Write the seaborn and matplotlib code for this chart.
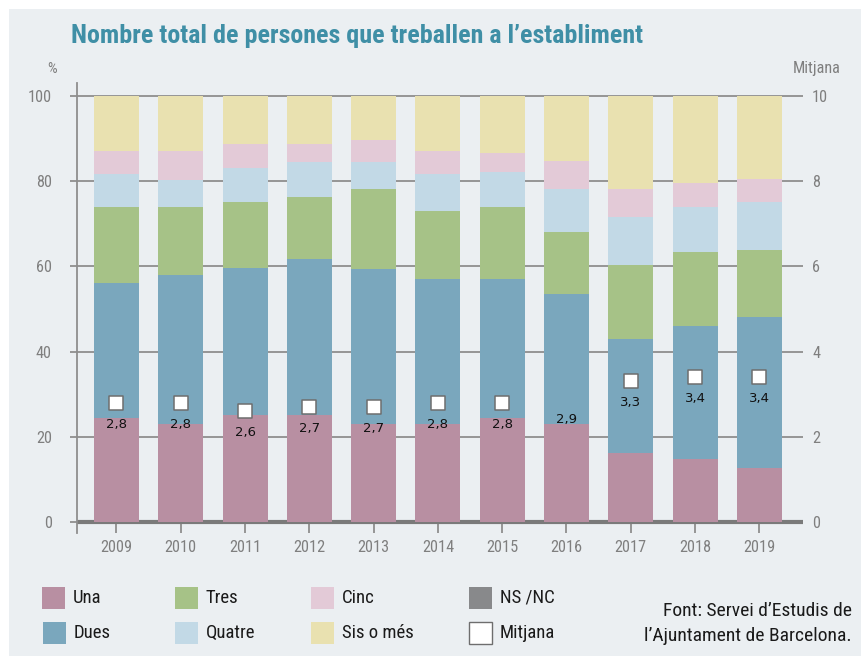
import numpy as np
import pandas as pd
import matplotlib
matplotlib.use("Agg")
import matplotlib.pyplot as plt
from matplotlib import font_manager
from matplotlib.patches import Rectangle
import seaborn as sns

sns.set_style('white')
names = {f.name for f in font_manager.fontManager.ttflist}
base_font = next((n for n in ['Liberation Sans Narrow', 'Roboto Condensed', 'Roboto'] if n in names), 'DejaVu Sans')
plt.rcParams['font.family'] = [base_font, 'DejaVu Sans']

# data (% of establishments)
years = ['2009', '2010', '2011', '2012', '2013', '2014', '2015', '2016', '2017', '2018', '2019']
una = [24.4, 23.0, 25.1, 25.1, 23.0, 23.0, 24.4, 23.0, 16.1, 14.7, 12.7]
dues = [31.7, 35.0, 34.5, 36.6, 36.3, 34.0, 32.6, 30.5, 26.8, 31.3, 35.4]
tres = [17.8, 15.9, 15.5, 14.6, 18.9, 16.0, 16.9, 14.6, 17.4, 17.5, 15.7]
quatre = [7.9, 6.5, 8.1, 8.3, 6.4, 8.8, 8.4, 10.1, 11.3, 10.4, 11.3]
cinc = [5.3, 6.7, 5.6, 4.2, 5.1, 5.3, 4.3, 6.5, 6.6, 5.7, 5.4]
sis = [12.9, 12.9, 11.2, 11.2, 10.3, 12.9, 13.4, 15.3, 21.8, 20.4, 19.5]
ns_nc = [0, 0, 0, 0, 0, 0, 0, 0, 0, 0, 0]
mitjana = [2.8, 2.8, 2.6, 2.7, 2.7, 2.8, 2.8, 2.9, 3.3, 3.4, 3.4]
no_marker = ['2016']  # the reference shows the label but no square that year

series = ['Una', 'Dues', 'Tres', 'Quatre', 'Cinc', 'Sis o més']
colors = ['#B88FA2', '#7AA7BD', '#A6C287', '#C2D9E6', '#E3CAD7', '#E9E1B0']
ns_color = '#88898B'
bg = '#EBEFF2'
grid_c = '#8E8E8E'
txt_c = '#7F7F7F'

df = pd.DataFrame({'year': years, 'Una': una, 'Dues': dues, 'Tres': tres,
                   'Quatre': quatre, 'Cinc': cinc, 'NS/NC': ns_nc, 'Sis o més': sis})
cum = df[series].cumsum(axis=1)

W, H = 862, 656
fig = plt.figure(figsize=(W / 100, H / 100), dpi=100, facecolor='white')
fig.add_artist(Rectangle((9 / W, 0), 1 - 9 / W, 1 - 9 / H, transform=fig.transFigure,
                         facecolor=bg, edgecolor='none', zorder=-10))

ax = fig.add_axes([77 / W, 1 - 533 / H, (803 - 77) / W, (533 - 83) / H])
ax.set_facecolor('none')

for name, col in reversed(list(zip(series, colors))):
    sns.barplot(x=df['year'], y=cum[name], color=col, saturation=1, width=0.7,
                linewidth=0, edgecolor='none', ax=ax, zorder=2)

ax.set_ylim(-2.65, 103.1)
ax.set_yticks(np.arange(0, 101, 20))
ax.yaxis.grid(True, color=grid_c, linewidth=1.3, zorder=0)
ax.set_axisbelow(True)
ax.axhline(0, color='#7A7A7A', linewidth=3, zorder=1)
ax.set_xlabel('')
ax.set_ylabel('')
for s in ['top', 'right', 'bottom']:
    ax.spines[s].set_visible(False)
ax.spines['left'].set_color(grid_c)
ax.spines['left'].set_linewidth(1.3)
ax.tick_params(axis='y', direction='out', length=5, width=1.3, color=grid_c, pad=13,
               labelsize=11.7, labelcolor=txt_c, left=True)
ax.tick_params(axis='x', direction='in', length=8, width=1.3, color=grid_c, pad=5,
               labelsize=11.7, labelcolor=txt_c, bottom=True)

ax2 = ax.twinx()
ax2.set_ylim(-0.265, 10.31)
ax2.set_yticks(np.arange(0, 11, 2))
for s in ax2.spines.values():
    s.set_visible(False)
ax2.tick_params(axis='y', length=0, pad=6.5, labelsize=11.7, labelcolor=txt_c)

pos = np.arange(len(years))
shown = [y not in no_marker for y in years]
sns.scatterplot(x=pos[shown], y=np.array(mitjana)[shown], marker='s', s=100,
                color='white', edgecolor='#6E6E6E', linewidth=1.1, ax=ax2, zorder=5)
for i, v in enumerate(mitjana):
    ax2.annotate(f"{v:.1f}".replace('.', ','), xy=(i, v), xytext=(0, -15.5),
                 textcoords='offset points', ha='center', va='center',
                 fontsize=9.5, family='DejaVu Sans', color='#111111', zorder=6)
ax.set_xlim(-0.614, 10.68)

fig.text(71 / W, 1 - 36 / H, "Nombre total de persones que treballen a l\u2019establiment",
         fontsize=18.7, fontweight='bold', color='#3F8FA6', ha='left', va='center')
fig.text(52.5 / W, 1 - 69 / H, '%', fontsize=11, color=txt_c, ha='center', va='center')
fig.text(817 / W, 1 - 68 / H, 'Mitjana', fontsize=11.7, color=txt_c, ha='center', va='center')

# legend, laid out as in the original (2 rows x 4 columns)
leg_items = [('Una', colors[0], 42, 587), ('Dues', colors[1], 43, 622),
             ('Tres', colors[2], 175, 587), ('Quatre', colors[3], 175, 622),
             ('Cinc', colors[4], 311, 587), ('Sis o més', colors[5], 311, 622),
             ('NS /NC', ns_color, 469, 587), ('Mitjana', 'white', 469, 622)]
for label, col, x0, y0 in leg_items:
    ec = '#6E6E6E' if col == 'white' else 'none'
    fig.add_artist(Rectangle((x0 / W, 1 - (y0 + 22) / H), 23 / W, 22 / H,
                             transform=fig.transFigure, facecolor=col, edgecolor=ec, linewidth=1))
    fig.text((x0 + 31) / W, 1 - (y0 + 11) / H, label, fontsize=13.5, color='#1A1A1A',
             ha='left', va='center')

fig.text(852 / W, 1 - 611 / H, 'Font: Servei d\u2019Estudis de', fontsize=14,
         color='#1A1A1A', ha='right', va='center')
fig.text(852 / W, 1 - 636 / H, 'l\u2019Ajuntament de Barcelona.', fontsize=14,
         color='#1A1A1A', ha='right', va='center')

fig.savefig('out.png', dpi=100, facecolor=fig.get_facecolor())
